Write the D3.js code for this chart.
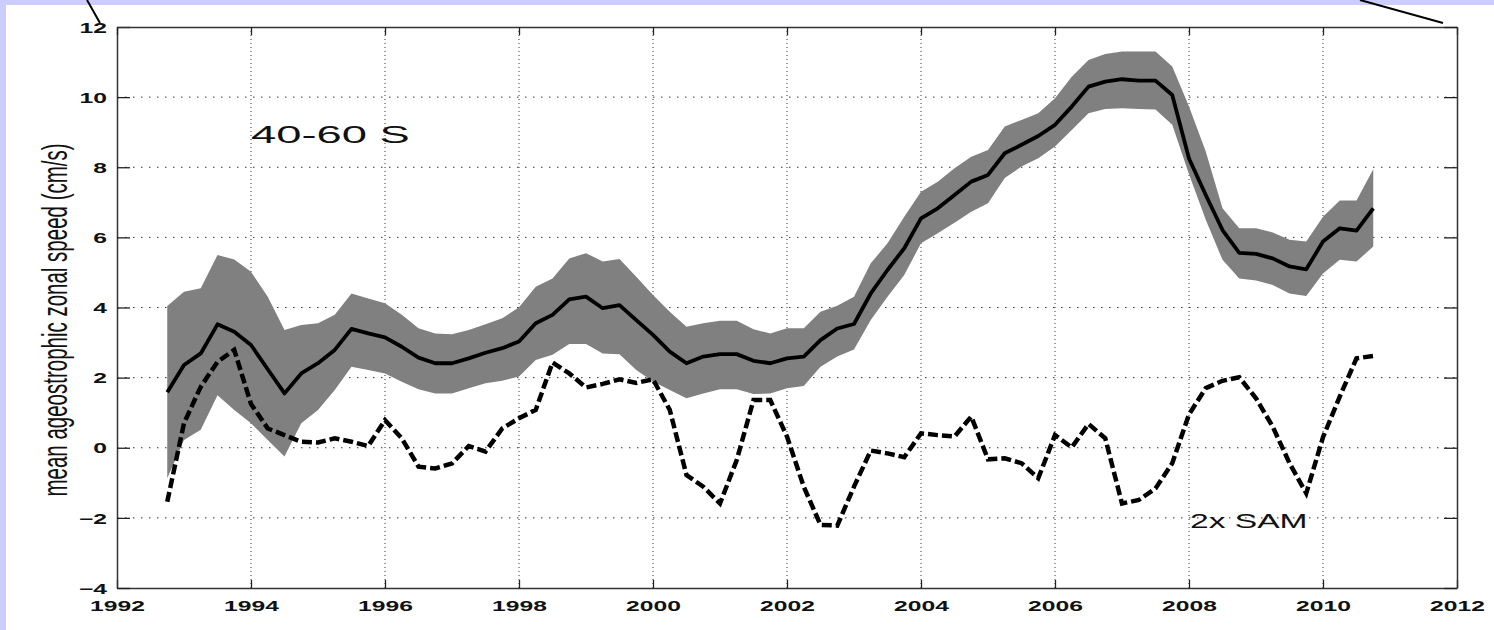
<!DOCTYPE html>
<html>
<head>
<meta charset="utf-8">
<script src="https://cdn.jsdelivr.net/npm/d3@7"></script>
<style>
  html, body { margin: 0; padding: 0; background: #ccccff; }
  svg { display: block; }
</style>
</head>
<body>
<svg id="chart"></svg>
<script>
// quarterly samples, decimal years
var years = [1992.75, 1993.00, 1993.25, 1993.50, 1993.75, 1994.00, 1994.25, 1994.50, 1994.75,
  1995.00, 1995.25, 1995.50, 1995.75, 1996.00, 1996.25, 1996.50, 1996.75,
  1997.00, 1997.25, 1997.50, 1997.75, 1998.00, 1998.25, 1998.50, 1998.75,
  1999.00, 1999.25, 1999.50, 1999.75, 2000.00, 2000.25, 2000.50, 2000.75,
  2001.00, 2001.25, 2001.50, 2001.75, 2002.00, 2002.25, 2002.50, 2002.75,
  2003.00, 2003.25, 2003.50, 2003.75, 2004.00, 2004.25, 2004.50, 2004.75,
  2005.00, 2005.25, 2005.50, 2005.75, 2006.00, 2006.25, 2006.50, 2006.75,
  2007.00, 2007.25, 2007.50, 2007.75, 2008.00, 2008.25, 2008.50, 2008.75,
  2009.00, 2009.25, 2009.50, 2009.75, 2010.00, 2010.25, 2010.50, 2010.75];

// mean ageostrophic zonal speed 40-60 S (cm/s)
var speed = [1.58, 2.36, 2.69, 3.52, 3.31, 2.93, 2.24, 1.55, 2.12,
  2.41, 2.79, 3.39, 3.26, 3.15, 2.88, 2.57, 2.41,
  2.41, 2.55, 2.71, 2.84, 3.03, 3.55, 3.79, 4.23,
  4.31, 3.98, 4.07, 3.64, 3.22, 2.74, 2.41, 2.60,
  2.67, 2.67, 2.48, 2.41, 2.55, 2.60, 3.07, 3.40,
  3.53, 4.40, 5.07, 5.69, 6.54, 6.83, 7.21, 7.59,
  7.78, 8.40, 8.64, 8.89, 9.21, 9.73, 10.30, 10.44,
  10.51, 10.47, 10.47, 10.06, 8.25, 7.21, 6.21, 5.56,
  5.53, 5.40, 5.17, 5.09, 5.88, 6.26, 6.19, 6.83];

var speedHigh = [4.04, 4.45, 4.55, 5.50, 5.37, 5.02, 4.31, 3.36, 3.50,
  3.55, 3.79, 4.40, 4.26, 4.12, 3.79, 3.41, 3.26,
  3.24, 3.36, 3.52, 3.69, 4.01, 4.59, 4.83, 5.40,
  5.55, 5.31, 5.38, 4.88, 4.36, 3.88, 3.45, 3.55,
  3.62, 3.62, 3.38, 3.26, 3.41, 3.41, 3.88, 4.05,
  4.31, 5.26, 5.83, 6.59, 7.30, 7.59, 7.97, 8.30,
  8.49, 9.16, 9.35, 9.54, 9.97, 10.58, 11.06, 11.23,
  11.30, 11.30, 11.30, 10.87, 9.73, 8.45, 6.83, 6.26,
  6.26, 6.14, 5.93, 5.88, 6.59, 7.05, 7.05, 7.94];

var speedLow = [-0.87, 0.22, 0.51, 1.50, 1.08, 0.70, 0.22, -0.25, 0.70,
  1.08, 1.65, 2.31, 2.22, 2.12, 1.88, 1.67, 1.55,
  1.55, 1.70, 1.84, 1.91, 2.03, 2.50, 2.65, 2.96,
  2.96, 2.69, 2.67, 2.22, 1.89, 1.65, 1.41, 1.55,
  1.67, 1.67, 1.53, 1.55, 1.70, 1.76, 2.31, 2.60,
  2.80, 3.64, 4.31, 4.93, 5.83, 6.12, 6.42, 6.73,
  6.97, 7.69, 8.02, 8.26, 8.59, 9.06, 9.54, 9.66,
  9.68, 9.66, 9.65, 9.21, 7.80, 6.50, 5.36, 4.83,
  4.77, 4.64, 4.40, 4.33, 4.97, 5.36, 5.31, 5.74];

// 2x SAM index
var sam2x = [-1.54, 0.70, 1.74, 2.45, 2.79, 1.25, 0.55, 0.36, 0.17,
  0.15, 0.27, 0.17, 0.05, 0.79, 0.27, -0.54, -0.59,
  -0.45, 0.05, -0.11, 0.55, 0.84, 1.08, 2.43, 2.12,
  1.72, 1.82, 1.95, 1.85, 1.95, 1.08, -0.78, -1.11,
  -1.59, -0.35, 1.36, 1.36, 0.32, -1.11, -2.20, -2.22,
  -1.11, -0.08, -0.16, -0.27, 0.41, 0.36, 0.32, 0.89,
  -0.33, -0.30, -0.44, -0.87, 0.36, 0.01, 0.68, 0.27,
  -1.59, -1.49, -1.16, -0.44, 0.95, 1.70, 1.91, 2.01,
  1.41, 0.60, -0.44, -1.30, 0.30, 1.46, 2.55, 2.62];

var xTicks = [1992, 1994, 1996, 1998, 2000, 2002, 2004, 2006, 2008, 2010, 2012];
var yTicks = [-4, -2, 0, 2, 4, 6, 8, 10, 12];

var Width = 1494;
var Height = 630;
var plotLeft = 117, plotRight = 1457, plotTop = 27, plotBottom = 588;
var stretch = 1.7; // the original picture is stretched sideways

var svg = d3.select("#chart")
  .attr("width", Width)
  .attr("height", Height);

// white figure panel on lavender page
svg.append("rect")
  .attr("x", 6).attr("y", 5)
  .attr("width", Width - 6).attr("height", Height - 5)
  .attr("fill", "#ffffff");

var xScale = d3.scaleLinear().domain([1992, 2012]).range([plotLeft, plotRight]);
var yScale = d3.scaleLinear().domain([-4, 12]).range([plotBottom, plotTop]);

// grid
svg.append("g")
  .selectAll("line")
  .data(yTicks.slice(1, -1))
  .enter()
  .append("line")
  .attr("x1", plotLeft).attr("x2", plotRight)
  .attr("y1", function(d) { return yScale(d); })
  .attr("y2", function(d) { return yScale(d); })
  .attr("stroke", "#333")
  .attr("stroke-width", 1)
  .attr("stroke-dasharray", "1.5,6.5");

svg.append("g")
  .selectAll("line")
  .data(xTicks.slice(1, -1))
  .enter()
  .append("line")
  .attr("y1", plotTop).attr("y2", plotBottom)
  .attr("x1", function(d) { return xScale(d); })
  .attr("x2", function(d) { return xScale(d); })
  .attr("stroke", "#333")
  .attr("stroke-width", 1)
  .attr("stroke-dasharray", "1,3");

// uncertainty band
var band = d3.area()
  .x(function(d, i) { return xScale(years[i]); })
  .y0(function(d, i) { return yScale(speedLow[i]); })
  .y1(function(d, i) { return yScale(speedHigh[i]); });

svg.append("path")
  .datum(years)
  .attr("d", band)
  .attr("fill", "#808080");

var speedLine = d3.line()
  .x(function(d, i) { return xScale(years[i]); })
  .y(function(d) { return yScale(d); });

svg.append("path")
  .datum(speed)
  .attr("d", speedLine)
  .attr("fill", "none")
  .attr("stroke", "#000")
  .attr("stroke-width", 3.8)
  .attr("stroke-linejoin", "round");

svg.append("path")
  .datum(sam2x)
  .attr("d", speedLine)
  .attr("fill", "none")
  .attr("stroke", "#000")
  .attr("stroke-width", 4.5)
  .attr("stroke-dasharray", "10,4");

// axes, ticks pointing inward
var tickFont = "'Liberation Sans', Arial, Helvetica, sans-serif";

var xAxis = svg.append("g")
  .attr("transform", "translate(0," + plotBottom + ")")
  .call(d3.axisBottom(xScale).tickValues(xTicks).tickFormat(d3.format("d")).tickSize(-8).tickSizeOuter(0));

xAxis.selectAll("text")
  .attr("y", 23)
  .attr("dy", null)
  .attr("transform", "scale(" + stretch + ",1)")
  .style("font-family", tickFont)
  .style("font-size", "14.5px")
  .style("font-weight", "bold")
  .attr("fill", "#111");

var yAxis = svg.append("g")
  .attr("transform", "translate(" + plotLeft + ",0)")
  .call(d3.axisLeft(yScale).tickValues(yTicks).tickSize(-13).tickSizeOuter(0));

yAxis.selectAll("text")
  .attr("x", -10 / stretch)
  .attr("dy", "0.36em")
  .attr("transform", "scale(" + stretch + ",1)")
  .style("font-family", tickFont)
  .style("font-size", "14.5px")
  .style("font-weight", "bold")
  .attr("fill", "#111");

svg.append("g")
  .attr("transform", "translate(0," + plotTop + ")")
  .call(d3.axisTop(xScale).tickValues(xTicks).tickFormat("").tickSize(-8).tickSizeOuter(0));

svg.append("g")
  .attr("transform", "translate(" + plotRight + ",0)")
  .call(d3.axisRight(yScale).tickValues(yTicks).tickFormat("").tickSize(-13).tickSizeOuter(0));

svg.selectAll(".domain").attr("stroke", "#333").attr("stroke-width", 1.5);
svg.selectAll(".tick line").attr("stroke", "#222").attr("stroke-width", 1.3);

// labels
svg.append("text")
  .attr("transform", "translate(67,320) rotate(-90) scale(1," + stretch + ")")
  .attr("text-anchor", "middle")
  .style("font-family", tickFont)
  .style("font-size", "20.5px")
  .attr("fill", "#111")
  .text("mean ageostrophic zonal speed (cm/s)");

svg.append("text")
  .attr("transform", "translate(251,143) scale(1.85,1)")
  .style("font-family", tickFont)
  .style("font-size", "24.5px")
  .attr("fill", "#111")
  .text("40-60 S");

svg.append("text")
  .attr("transform", "translate(1190,528) scale(1.6,1)")
  .style("font-family", tickFont)
  .style("font-size", "21px")
  .attr("fill", "#111")
  .text("2x SAM");

// pointer strokes crossing the top edge
svg.append("line")
  .attr("x1", 87).attr("y1", 0).attr("x2", 100).attr("y2", 23)
  .attr("stroke", "#000").attr("stroke-width", 2);
svg.append("line")
  .attr("x1", 1360).attr("y1", 0).attr("x2", 1443).attr("y2", 23)
  .attr("stroke", "#000").attr("stroke-width", 2);
</script>
</body>
</html>
